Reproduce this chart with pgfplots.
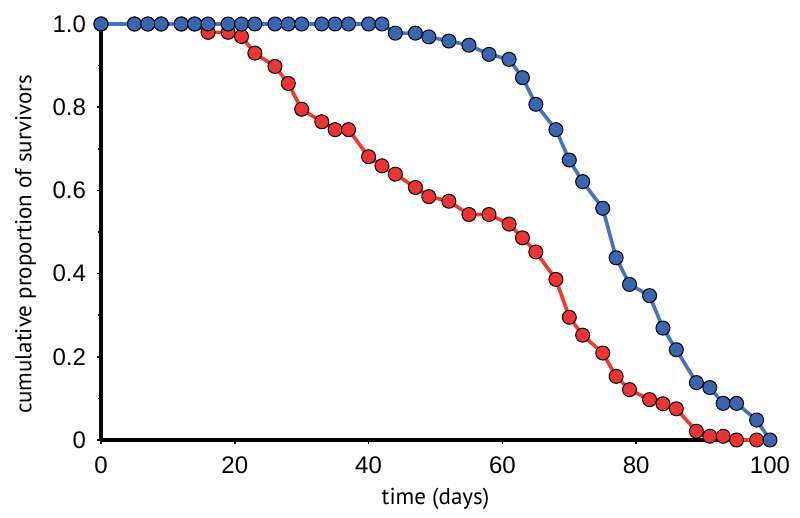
\documentclass[border=0pt]{standalone}
\usepackage{pgfplots}
\pgfplotsset{compat=1.18}
\usepackage{fontspec}
\setmainfont{Liberation Sans}
\newfontfamily\labelfont{PT Sans}
\definecolor{bluel}{HTML}{4472C4}
\definecolor{bluem}{HTML}{3A66B0}
\definecolor{redl}{HTML}{EE3B2C}
\definecolor{redm}{HTML}{EE3333}
\pgfplotstableread{
d s
0 1
5 1
7 1
9 1
12 1
14 1
16 0.98
19 0.98
21 0.97
23 0.93
26 0.898
28 0.857
30 0.795
33 0.765
35 0.746
37 0.746
40 0.681
42 0.659
44 0.639
47 0.607
49 0.585
52 0.574
55 0.542
58 0.542
61 0.519
63 0.486
65 0.452
68 0.386
70 0.295
72 0.252
75 0.209
77 0.153
79 0.121
82 0.097
84 0.087
86 0.075
89 0.021
91 0.009
93 0.009
95 0
98 0
}\redtab
\pgfplotstableread{
d s
0 1
5 1
7 1
9 1
12 1
14 1
16 1
19 1
21 1
23 1
26 1
28 1
30 1
33 1
35 1
37 1
40 1
42 1
44 0.978
47 0.978
49 0.969
52 0.959
55 0.949
58 0.927
61 0.915
63 0.871
65 0.807
68 0.746
70 0.673
72 0.621
75 0.557
77 0.438
79 0.374
82 0.347
84 0.269
86 0.217
89 0.138
91 0.126
93 0.088
95 0.088
98 0.048
100 0
}\bluetab
\begin{document}
\begin{tikzpicture}
\useasboundingbox (-50.5pt,-39pt) rectangle (349.5pt,220pt);
\begin{axis}[
  at={(0,0)}, anchor=south west,
  scale only axis, width=334.5pt, height=208pt,
  xmin=0, xmax=100, ymin=0, ymax=1,
  axis x line*=bottom, axis y line*=left,
  axis line style={line width=1.6pt, -},
  xtick={0,20,40,60,80,100},
  ytick={0,0.2,0.4,0.6,0.8,1},
  yticklabels={0,0.2,0.4,0.6,0.8,1.0},
  minor ytick={0.1,0.3,0.5,0.7,0.9},
  tick align=outside, major tick length=2pt, minor tick length=1.5pt,
  tick style={black, line width=0.8pt},
  /pgf/number format/assume math mode=true,
  tick label style={font=\fontsize{12}{14}\selectfont},
  xticklabel style={yshift=-3pt},
  yticklabel style={xshift=-2pt},
  xlabel={\labelfont\fontsize{11.5}{13}\selectfont time (days)},
  ylabel={\labelfont\fontsize{11.5}{13}\selectfont cumulative proportion of survivors},
  xlabel style={at={(axis description cs:0.5,0)}, yshift=-20.5pt, anchor=north},
  ylabel style={at={(axis description cs:0,0.47)}, yshift=29pt, anchor=south},
  clip=false,
]
\addplot[redl, line width=1.8pt, mark=*, mark size=3.5pt,
  mark options={fill=redm, draw=black, line width=0.5pt}] table[x=d,y=s] {\redtab};
\addplot[bluel, line width=1.8pt, mark=*, mark size=3.5pt,
  mark options={fill=bluem, draw=black, line width=0.5pt}] table[x=d,y=s] {\bluetab};
\end{axis}
\end{tikzpicture}
\end{document}
